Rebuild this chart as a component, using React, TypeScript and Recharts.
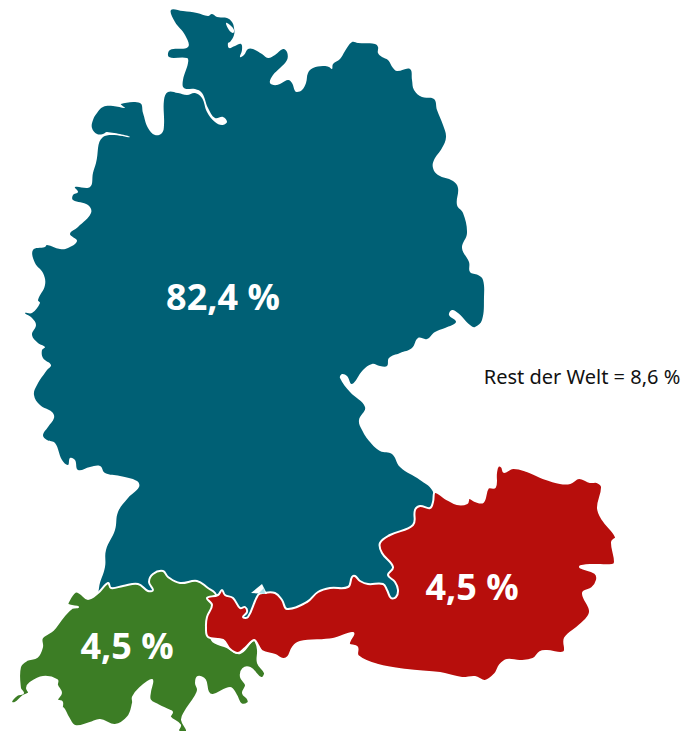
import React from 'react';
import { ScatterChart, Scatter, XAxis, YAxis } from 'recharts';

type Pt = [number, number];

const germanyOutline: Pt[] = [
  [171, 10], [183, 11], [197, 13], [208, 16], [212, 14], [217, 17], [227, 18], [232, 22], [234, 28], [234, 35],
  [230, 42], [228, 43], [229, 48], [235, 46], [241, 44], [242, 50], [240, 57], [244, 55], [248, 49], [253, 49],
  [262, 54], [268, 58], [275, 55], [283, 49], [287, 52], [287, 60], [280, 68], [273, 75], [270, 83], [277, 85],
  [288, 80], [292, 83], [295, 91], [297, 92], [302, 90], [306, 83], [308, 73], [313, 68], [323, 66], [329, 67],
  [332, 69], [333, 64], [340, 59], [345, 51], [352, 42], [358, 43], [375, 44], [378, 47], [378, 53], [382, 57],
  [388, 60], [393, 68], [397, 71], [410, 69], [412, 80], [414, 90], [422, 97], [434, 99], [437, 110], [443, 125],
  [446, 137], [442, 148], [434, 160], [433, 168], [438, 175], [453, 181], [458, 188], [457, 205], [463, 213], [467, 233],
  [462, 248], [469, 262], [470, 272], [478, 275], [483, 280], [484, 297], [482, 320], [475, 327], [470, 325], [458, 313],
  [452, 310], [449, 315], [456, 322], [445, 328], [435, 332], [427, 339], [418, 338], [412, 348], [400, 353], [389, 358],
  [387, 366], [380, 366], [372, 364], [363, 370], [352, 384], [347, 376], [342, 374], [340, 378], [350, 392], [365, 407],
  [359, 420], [362, 430], [370, 442], [380, 451], [392, 454], [400, 467], [420, 480], [432, 490], [434, 502], [425, 530],
  [410, 570], [400, 610], [330, 615], [250, 625], [225, 620], [180, 610], [120, 610], [100, 605], [99, 588], [105, 567],
  [106, 550], [115, 530], [118, 512], [128, 498], [139, 487], [137, 481], [120, 476], [105, 473], [100, 466], [90, 467],
  [78, 470], [75, 460], [70, 458], [68, 465], [62, 460], [55, 443], [47, 440], [43, 435], [48, 427], [54, 418],
  [52, 412], [40, 405], [34, 395], [37, 385], [47, 370], [51, 365], [43, 358], [42, 350], [45, 347], [38, 343],
  [32, 335], [36, 325], [32, 318], [25, 313], [32, 313], [40, 303], [38, 300], [45, 285], [43, 273], [35, 263],
  [33, 250], [45, 247], [47, 245], [60, 249], [68, 248], [77, 241], [70, 234], [78, 227], [91, 213], [88, 205],
  [73, 200], [73, 195], [78, 192], [75, 187], [90, 187], [93, 173], [96, 163], [103, 137], [130, 137], [107, 132],
  [103, 134], [97, 134], [92, 128], [93, 120], [97, 113], [103, 107], [113, 106], [125, 108], [121, 104], [140, 103],
  [143, 113], [148, 128], [155, 135], [162, 133], [164, 125], [164, 100], [168, 92], [178, 93], [187, 95], [195, 93],
  [202, 98], [207, 112], [215, 122], [222, 125], [227, 122], [223, 117], [215, 118], [208, 108], [202, 93], [195, 89],
  [184, 88], [183, 80], [188, 63], [187, 58], [169, 57], [170, 50], [188, 47], [185, 35], [175, 22],
];

const austriaOutline: Pt[] = [
  [435, 492], [445, 498], [457, 504], [467, 503], [469, 498], [475, 501], [483, 502], [488, 488], [495, 487], [496, 473],
  [498, 466], [502, 467], [504, 472], [513, 468], [527, 471], [543, 478], [560, 483], [570, 483], [579, 478], [590, 482],
  [597, 482], [602, 487], [598, 508], [603, 520], [616, 537], [612, 542], [615, 562], [612, 565], [590, 565], [580, 567],
  [595, 573], [597, 580], [592, 588], [583, 593], [590, 612], [580, 625], [565, 638], [564, 652], [547, 651], [540, 652],
  [533, 659], [520, 661], [507, 660], [500, 665], [495, 674], [485, 681], [475, 677], [462, 678], [440, 673], [407, 670],
  [378, 665], [358, 656], [357, 647], [349, 644], [353, 633], [333, 639], [300, 642], [293, 647], [288, 657], [283, 659],
  [275, 655], [262, 651], [258, 645], [254, 640], [245, 648], [238, 653], [230, 649], [223, 640], [208, 637], [206, 627],
  [207, 617], [212, 605], [207, 598], [218, 595], [222, 590], [225, 595], [233, 598], [240, 608], [245, 607], [247, 612],
  [243, 617], [248, 617], [258, 595], [263, 593], [275, 593], [282, 600], [287, 609], [307, 602], [318, 592], [330, 588],
  [348, 587], [352, 577], [355, 576], [360, 581], [368, 584], [383, 584], [387, 590], [391, 598], [396, 597], [398, 590],
  [395, 582], [388, 575], [393, 567], [382, 553], [380, 543], [390, 535], [413, 525], [415, 510], [420, 506], [430, 508],
  [433, 502],
];

const switzerlandOutline: Pt[] = [
  [68, 602], [75, 592], [80, 593], [88, 599], [98, 593], [108, 583], [111, 588], [123, 586], [138, 584], [148, 591],
  [153, 590], [149, 582], [153, 574], [163, 571], [168, 577], [180, 583], [197, 581], [208, 588], [215, 593], [217, 600],
  [210, 620], [212, 640], [227, 647], [240, 653], [253, 640], [256, 642], [258, 650], [258, 663], [265, 673], [261, 678],
  [250, 668], [243, 669], [241, 677], [246, 685], [243, 693], [248, 699], [248, 703], [241, 704], [236, 695], [230, 688], [213, 695],
  [208, 692], [205, 680], [198, 677], [196, 683], [198, 690], [195, 697], [185, 712], [182, 720], [187, 731], [178, 731],
  [180, 725], [170, 717], [172, 712], [168, 710], [158, 705], [150, 700], [150, 692], [152, 680], [140, 688], [133, 697],
  [133, 703], [128, 717], [115, 725], [100, 720], [90, 723], [75, 726], [68, 717], [63, 708], [61, 712], [62, 702],
  [57, 700], [61, 693], [57, 685], [57, 680], [43, 677], [30, 683], [27, 688], [29, 693], [23, 696], [15, 703],
  [11, 702], [17, 695], [23, 693], [20, 688], [20, 667], [27, 660], [37, 657], [42, 647], [42, 638], [53, 630],
  [63, 617], [72, 608], [78, 607], [68, 605],
];

const bayGap: Pt[] = [[226, 23], [230, 25], [234, 30], [233, 33], [229, 30]];
const lakeEdge: Pt[] = [[251, 593], [262, 584], [267, 594]];
const lake: Pt[] = [[259, 593], [264, 588], [265, 594]];

const shareLabels = [
  { x: 223, y: 296, label: '82,4 %' },
  { x: 472, y: 586, label: '4,5 %' },
  { x: 127, y: 645, label: '4,5 %' },
];
const restLabel = [{ x: 582, y: 376, label: 'Rest der Welt = 8,6 %' }];

const toRows = (pts: Pt[]) => pts.map(([x, y]) => ({ x, y }));
const NoDot = () => <g />;

// closed spline through the outline points, flattens out at sharp tips so they stay pointed
const smoothClosed = (ctx: any) => {
  let pts: Pt[] = [];
  return {
    areaStart() {},
    areaEnd() {},
    lineStart() {
      pts = [];
    },
    point(x: number, y: number) {
      pts.push([x, y]);
    },
    lineEnd() {
      const n = pts.length;
      const at = (i: number) => pts[(i + n) % n];
      const dist = (a: Pt, b: Pt) => Math.hypot(a[0] - b[0], a[1] - b[1]);
      ctx.moveTo(pts[0][0], pts[0][1]);
      for (let i = 0; i < n; i++) {
        const [p0, p1, p2, p3] = [at(i - 1), at(i), at(i + 1), at(i + 2)];
        const d = dist(p1, p2);
        const s1 = (0.4 * d) / (dist(p0, p1) + d);
        const s2 = (0.4 * d) / (d + dist(p2, p3));
        ctx.bezierCurveTo(
          p1[0] + (p2[0] - p0[0]) * s1,
          p1[1] + (p2[1] - p0[1]) * s1,
          p2[0] - (p3[0] - p1[0]) * s2,
          p2[1] - (p3[1] - p1[1]) * s2,
          p2[0],
          p2[1],
        );
      }
      ctx.closePath();
    },
  };
};

const Region = (outline: Pt[], name: string, fill: string, stroke: string, strokeWidth: number, curve: any = smoothClosed) => (
  <Scatter
    key={name}
    name={name}
    data={toRows(outline)}
    shape={NoDot}
    line={{ fill, stroke, strokeWidth, strokeLinejoin: 'round' }}
    lineType="joint"
    lineJointType={curve}
    isAnimationActive={false}
  />
);

const ShareText = (p: any) => (
  <text
    x={p.cx}
    y={p.cy}
    textAnchor="middle"
    dominantBaseline="central"
    fill="#ffffff"
    fontFamily='"Open Sans", sans-serif'
    fontWeight={700}
    fontSize={36}
  >
    {p.payload.label}
  </text>
);

const RestText = (p: any) => (
  <text
    x={p.cx}
    y={p.cy}
    textAnchor="middle"
    dominantBaseline="central"
    fill="#111111"
    fontFamily='"Noto Sans", sans-serif'
    fontSize={20}
  >
    {p.payload.label}
  </text>
);

export default function App() {
  return (
    <div style={{ position: 'absolute', left: 0, top: 0 }}>
      <ScatterChart width={683} height={731} margin={{ top: 0, right: 0, bottom: 0, left: 0 }}>
        <XAxis type="number" dataKey="x" domain={[0, 683]} hide />
        <YAxis type="number" dataKey="y" domain={[0, 731]} reversed hide />
        {Region(germanyOutline, 'Deutschland', '#006075', 'none', 0)}
        {Region(bayGap, 'Bucht', '#ffffff', 'none', 0)}
        {Region(switzerlandOutline, 'Schweiz', '#3c7d25', '#ffffff', 2)}
        {Region(austriaOutline, 'Österreich', '#b70e0c', '#ffffff', 2)}
        {Region(lakeEdge, 'Bodensee Rand', '#ffffff', 'none', 0, 'linearClosed')}
        {Region(lake, 'Bodensee', '#a8e0ea', 'none', 0, 'linearClosed')}
        <Scatter data={shareLabels} shape={ShareText} isAnimationActive={false} />
        <Scatter data={restLabel} shape={RestText} isAnimationActive={false} />
      </ScatterChart>
    </div>
  );
}
